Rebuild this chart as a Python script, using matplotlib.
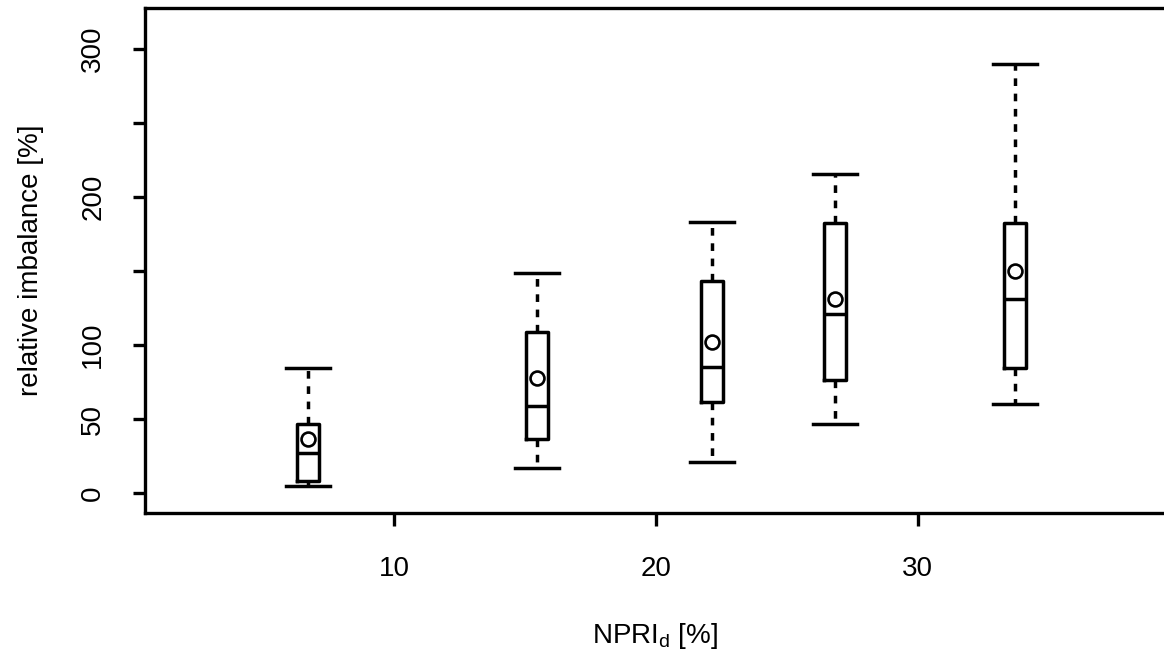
"""Boxplot of relative imbalance versus NPRI_d, R base-graphics look."""

import matplotlib
matplotlib.use("Agg")
import matplotlib.pyplot as plt

# data
positions = [6.72, 15.46, 22.14, 26.83, 33.7]
whislo = [4.7, 17.1, 20.9, 46.8, 60.3]
q1 = [8.3, 36.5, 61.7, 76.6, 84.2]
med = [27.2, 58.8, 84.9, 120.7, 131.1]
q3 = [46.4, 108.8, 143.2, 182.6, 182.6]
whishi = [84.7, 148.6, 183.3, 215.7, 289.6]
means = [36.3, 77.9, 102.2, 131.3, 150.2]

yticks = [0, 50, 100, 150, 200, 250, 300]
ytick_labels = ["0", "50", "100", "", "200", "", "300"]
xticks = [10, 20, 30]

plt.rcParams["font.family"] = ["Liberation Sans", "DejaVu Sans"]
plt.rcParams["mathtext.fontset"] = "custom"
plt.rcParams["mathtext.rm"] = "Liberation Sans"

fig = plt.figure(figsize=(11.64, 6.52), dpi=100)
ax = fig.add_axes([0.1246, 0.2132, 0.8754, 0.7745])

stats = []
for i in range(len(positions)):
    stats.append(dict(whislo=whislo[i], q1=q1[i], med=med[i], q3=q3[i],
                      whishi=whishi[i], mean=means[i], fliers=[]))

lw = 2.5
ax.bxp(stats, positions=positions, widths=0.84, capwidths=1.68,
       showmeans=True, manage_ticks=False,
       boxprops=dict(color="k", lw=lw),
       medianprops=dict(color="k", lw=lw),
       whiskerprops=dict(color="k", lw=lw, ls=(0, (2.2, 2.2))),
       capprops=dict(color="k", lw=lw),
       meanprops=dict(marker="o", markerfacecolor="none",
                      markeredgecolor="k", markersize=10, mew=1.9))

ax.set_xlim(0.5, 39.4)
ax.set_ylim(-13.5, 327.7)
ax.set_xticks(xticks)
ax.set_xticklabels([str(t) for t in xticks])
ax.set_yticks(yticks)
ax.set_yticklabels(ytick_labels, rotation=90, va="center")

fs = 20
ax.tick_params(axis="both", length=9, width=2.4, labelsize=fs, color="k")
ax.tick_params(axis="x", pad=22)
ax.tick_params(axis="y", pad=19)
for side in ["left", "bottom", "top"]:
    ax.spines[side].set_linewidth(2.4)
ax.spines["right"].set_visible(False)

ax.set_ylabel("relative imbalance [%]", fontsize=fs, labelpad=26)
ax.set_xlabel(r"NPRI$_\mathrm{d}$ [%]", fontsize=fs, labelpad=28)

fig.savefig("out.png", dpi=100)
